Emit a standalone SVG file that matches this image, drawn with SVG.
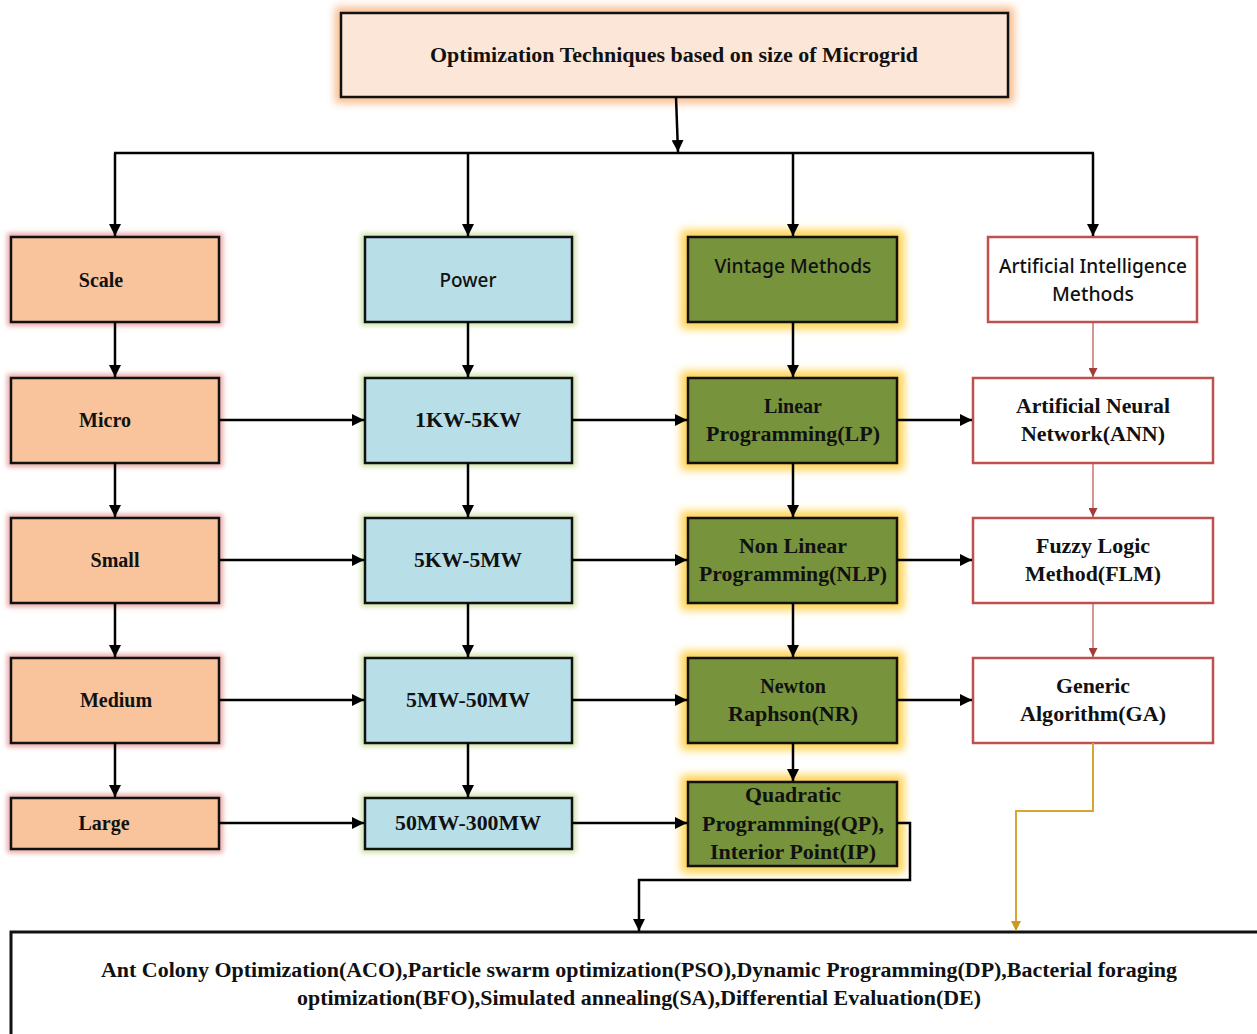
<svg xmlns="http://www.w3.org/2000/svg" width="1257" height="1034" viewBox="0 0 1257 1034">
  <defs>
    <filter id="glow" x="-20%" y="-40%" width="140%" height="180%">
      <feGaussianBlur stdDeviation="4"/>
    </filter>
    <filter id="glowSoft" x="-50%" y="-50%" width="200%" height="200%">
      <feGaussianBlur stdDeviation="2.5"/>
    </filter>
    <marker id="arrow" viewBox="0 0 10 10" refX="10" refY="5" markerWidth="12" markerHeight="12" markerUnits="userSpaceOnUse" orient="auto">
      <path d="M0,0 L10,5 L0,10 Z" fill="#000"/>
    </marker>
    <marker id="arrowRed" viewBox="0 0 10 10" refX="10" refY="5" markerWidth="9" markerHeight="9" markerUnits="userSpaceOnUse" orient="auto">
      <path d="M0,0 L10,5 L0,10 Z" fill="#a33b38"/>
    </marker>
    <marker id="arrowGold" viewBox="0 0 10 10" refX="10" refY="5" markerWidth="10" markerHeight="10" markerUnits="userSpaceOnUse" orient="auto">
      <path d="M0,0 L10,5 L0,10 Z" fill="#c99a1f"/>
    </marker>
  </defs>
  <style>
    .box { stroke: #111; stroke-width: 2.5; }
    .scale { fill: #f9c49b; }
    .power { fill: #b8dee8; }
    .vintage { fill: #77933c; }
    .ai { fill: #fff; stroke: #c0504d; stroke-width: 2.5; }
    .halo-red { fill: none; stroke: #e9a8a6; stroke-width: 8; filter: url(#glowSoft); }
    .halo-green { fill: none; stroke: #cfe3a8; stroke-width: 8; filter: url(#glowSoft); }
    .halo-gold { fill: none; stroke: #ffd24d; stroke-width: 14; filter: url(#glow); }
    .halo-orange { fill: none; stroke: #f8b98a; stroke-width: 12; filter: url(#glow); }
    .serif { font-family: "Liberation Serif", "Times New Roman", serif; font-weight: bold; font-size: 20px; fill: #111; text-anchor: middle; }
    .sans { font-family: "Noto Sans", "Liberation Sans", sans-serif; font-weight: 500; font-size: 19px; fill: #111; text-anchor: middle; }
    .conn { stroke: #000; stroke-width: 2.5; fill: none; }
    .conn-ai { stroke: #b9504c; stroke-width: 1.2; fill: none; }
  </style>

  <rect width="1257" height="1034" fill="#fff"/>

  <!-- halos behind connectors of the coloured columns -->
  <g id="connector-halos">
    <line class="halo-red" x1="115" y1="322" x2="115" y2="378"/>
    <line class="halo-red" x1="115" y1="463" x2="115" y2="518"/>
    <line class="halo-red" x1="115" y1="603" x2="115" y2="658"/>
    <line class="halo-red" x1="115" y1="743" x2="115" y2="798"/>
    <line class="halo-green" x1="468" y1="322" x2="468" y2="378"/>
    <line class="halo-green" x1="468" y1="463" x2="468" y2="518"/>
    <line class="halo-green" x1="468" y1="603" x2="468" y2="658"/>
    <line class="halo-green" x1="468" y1="743" x2="468" y2="798"/>
    <line class="halo-gold" x1="793" y1="322" x2="793" y2="378"/>
    <line class="halo-gold" x1="793" y1="463" x2="793" y2="518"/>
    <line class="halo-gold" x1="793" y1="603" x2="793" y2="658"/>
    <line class="halo-gold" x1="793" y1="743" x2="793" y2="782"/>
    <polyline fill="none" stroke="#fbc995" stroke-width="7" filter="url(#glowSoft)" points="1016,812 1016,930"/>
  </g>

  <!-- title -->
  <g id="title">
    <rect class="halo-orange" x="341" y="13" width="667" height="84"/>
    <rect class="box" x="341" y="13" width="667" height="84" fill="#fce6d8"/>
    <text class="serif" x="674" y="62" textLength="488" lengthAdjust="spacingAndGlyphs">Optimization Techniques based on size of Microgrid</text>
  </g>

  <!-- scale column -->
  <g id="scale">
    <rect class="halo-red" x="11" y="237" width="208" height="85"/>
    <rect class="box scale" x="11" y="237" width="208" height="85"/>
    <text class="serif" x="101" y="287">Scale</text>
  </g>
  <g id="micro">
    <rect class="halo-red" x="11" y="378" width="208" height="85"/>
    <rect class="box scale" x="11" y="378" width="208" height="85"/>
    <text class="serif" x="105" y="427">Micro</text>
  </g>
  <g id="small">
    <rect class="halo-red" x="11" y="518" width="208" height="85"/>
    <rect class="box scale" x="11" y="518" width="208" height="85"/>
    <text class="serif" x="115" y="567">Small</text>
  </g>
  <g id="medium">
    <rect class="halo-red" x="11" y="658" width="208" height="85"/>
    <rect class="box scale" x="11" y="658" width="208" height="85"/>
    <text class="serif" x="116" y="707">Medium</text>
  </g>
  <g id="large">
    <rect class="halo-red" x="11" y="798" width="208" height="51"/>
    <rect class="box scale" x="11" y="798" width="208" height="51"/>
    <text class="serif" x="104" y="830">Large</text>
  </g>

  <!-- power column -->
  <g id="power">
    <rect class="halo-green" x="365" y="237" width="207" height="85"/>
    <rect class="box power" x="365" y="237" width="207" height="85"/>
    <text class="sans" x="468" y="287" textLength="57" lengthAdjust="spacingAndGlyphs">Power</text>
  </g>
  <g id="p-1kw-5kw">
    <rect class="halo-green" x="365" y="378" width="207" height="85"/>
    <rect class="box power" x="365" y="378" width="207" height="85"/>
    <text class="serif" x="468" y="427" textLength="106" lengthAdjust="spacingAndGlyphs">1KW-5KW</text>
  </g>
  <g id="p-5kw-5mw">
    <rect class="halo-green" x="365" y="518" width="207" height="85"/>
    <rect class="box power" x="365" y="518" width="207" height="85"/>
    <text class="serif" x="468" y="567" textLength="108" lengthAdjust="spacingAndGlyphs">5KW-5MW</text>
  </g>
  <g id="p-5mw-50mw">
    <rect class="halo-green" x="365" y="658" width="207" height="85"/>
    <rect class="box power" x="365" y="658" width="207" height="85"/>
    <text class="serif" x="468" y="707" textLength="124" lengthAdjust="spacingAndGlyphs">5MW-50MW</text>
  </g>
  <g id="p-50mw-300mw">
    <rect class="halo-green" x="365" y="798" width="207" height="51"/>
    <rect class="box power" x="365" y="798" width="207" height="51"/>
    <text class="serif" x="468" y="830" textLength="146" lengthAdjust="spacingAndGlyphs">50MW-300MW</text>
  </g>

  <!-- vintage methods column -->
  <g id="vintage">
    <rect class="halo-gold" x="688" y="237" width="209" height="85"/>
    <rect class="box vintage" x="688" y="237" width="209" height="85"/>
    <text class="sans" x="793" y="273" textLength="157" lengthAdjust="spacingAndGlyphs">Vintage Methods</text>
  </g>
  <g id="lp">
    <rect class="halo-gold" x="688" y="378" width="209" height="85"/>
    <rect class="box vintage" x="688" y="378" width="209" height="85"/>
    <text class="serif" x="793" y="413">Linear</text>
    <text class="serif" x="793" y="441" textLength="174" lengthAdjust="spacingAndGlyphs">Programming(LP)</text>
  </g>
  <g id="nlp">
    <rect class="halo-gold" x="688" y="518" width="209" height="85"/>
    <rect class="box vintage" x="688" y="518" width="209" height="85"/>
    <text class="serif" x="793" y="553" textLength="108" lengthAdjust="spacingAndGlyphs">Non Linear</text>
    <text class="serif" x="793" y="581" textLength="188" lengthAdjust="spacingAndGlyphs">Programming(NLP)</text>
  </g>
  <g id="nr">
    <rect class="halo-gold" x="688" y="658" width="209" height="85"/>
    <rect class="box vintage" x="688" y="658" width="209" height="85"/>
    <text class="serif" x="793" y="693">Newton</text>
    <text class="serif" x="793" y="721" textLength="130" lengthAdjust="spacingAndGlyphs">Raphson(NR)</text>
  </g>
  <g id="qp">
    <rect class="halo-gold" x="688" y="782" width="209" height="84"/>
    <rect class="box vintage" x="688" y="782" width="209" height="84"/>
    <text class="serif" x="793" y="802" textLength="96" lengthAdjust="spacingAndGlyphs">Quadratic</text>
    <text class="serif" x="793" y="831" textLength="182" lengthAdjust="spacingAndGlyphs">Programming(QP),</text>
    <text class="serif" x="793" y="859" textLength="166" lengthAdjust="spacingAndGlyphs">Interior Point(IP)</text>
  </g>

  <!-- artificial intelligence column -->
  <g id="ai-methods">
    <rect class="ai" x="988" y="237" width="209" height="85"/>
    <text class="sans" x="1093" y="273" textLength="188" lengthAdjust="spacingAndGlyphs">Artificial Intelligence</text>
    <text class="sans" x="1093" y="301" textLength="82" lengthAdjust="spacingAndGlyphs">Methods</text>
  </g>
  <g id="ann">
    <rect class="ai" x="973" y="378" width="240" height="85"/>
    <text class="serif" x="1093" y="413" textLength="154" lengthAdjust="spacingAndGlyphs">Artificial Neural</text>
    <text class="serif" x="1093" y="441" textLength="144" lengthAdjust="spacingAndGlyphs">Network(ANN)</text>
  </g>
  <g id="flm">
    <rect class="ai" x="973" y="518" width="240" height="85"/>
    <text class="serif" x="1093" y="553" textLength="114" lengthAdjust="spacingAndGlyphs">Fuzzy Logic</text>
    <text class="serif" x="1093" y="581" textLength="136" lengthAdjust="spacingAndGlyphs">Method(FLM)</text>
  </g>
  <g id="ga">
    <rect class="ai" x="973" y="658" width="240" height="85"/>
    <text class="serif" x="1093" y="693" textLength="74" lengthAdjust="spacingAndGlyphs">Generic</text>
    <text class="serif" x="1093" y="721" textLength="146" lengthAdjust="spacingAndGlyphs">Algorithm(GA)</text>
  </g>

  <!-- combined techniques -->
  <g id="other-techniques">
    <rect x="11" y="932" width="1260" height="120" fill="#fff" stroke="#111" stroke-width="3"/>
    <text class="serif" x="639" y="977" textLength="1076" lengthAdjust="spacingAndGlyphs">Ant Colony Optimization(ACO),Particle swarm optimization(PSO),Dynamic Programming(DP),Bacterial foraging</text>
    <text class="serif" x="639" y="1005" textLength="684" lengthAdjust="spacingAndGlyphs">optimization(BFO),Simulated annealing(SA),Differential Evaluation(DE)</text>
  </g>

  <!-- connectors -->
  <g id="connectors">
    <line class="conn" x1="676" y1="97" x2="678" y2="152" marker-end="url(#arrow)"/>
    <line class="conn" x1="114" y1="153" x2="1094" y2="153"/>
    <line class="conn" x1="115" y1="153" x2="115" y2="236" marker-end="url(#arrow)"/>
    <line class="conn" x1="468" y1="153" x2="468" y2="236" marker-end="url(#arrow)"/>
    <line class="conn" x1="793" y1="153" x2="793" y2="236" marker-end="url(#arrow)"/>
    <line class="conn" x1="1093" y1="153" x2="1093" y2="236" marker-end="url(#arrow)"/>

    <line class="conn" x1="115" y1="322" x2="115" y2="377" marker-end="url(#arrow)"/>
    <line class="conn" x1="115" y1="463" x2="115" y2="517" marker-end="url(#arrow)"/>
    <line class="conn" x1="115" y1="603" x2="115" y2="657" marker-end="url(#arrow)"/>
    <line class="conn" x1="115" y1="743" x2="115" y2="797" marker-end="url(#arrow)"/>

    <line class="conn" x1="468" y1="322" x2="468" y2="377" marker-end="url(#arrow)"/>
    <line class="conn" x1="468" y1="463" x2="468" y2="517" marker-end="url(#arrow)"/>
    <line class="conn" x1="468" y1="603" x2="468" y2="657" marker-end="url(#arrow)"/>
    <line class="conn" x1="468" y1="743" x2="468" y2="797" marker-end="url(#arrow)"/>

    <line class="conn" x1="793" y1="322" x2="793" y2="377" marker-end="url(#arrow)"/>
    <line class="conn" x1="793" y1="463" x2="793" y2="517" marker-end="url(#arrow)"/>
    <line class="conn" x1="793" y1="603" x2="793" y2="657" marker-end="url(#arrow)"/>
    <line class="conn" x1="793" y1="743" x2="793" y2="781" marker-end="url(#arrow)"/>

    <line class="conn-ai" x1="1093" y1="322" x2="1093" y2="377" marker-end="url(#arrowRed)"/>
    <line class="conn-ai" x1="1093" y1="463" x2="1093" y2="517" marker-end="url(#arrowRed)"/>
    <line class="conn-ai" x1="1093" y1="603" x2="1093" y2="657" marker-end="url(#arrowRed)"/>

    <line class="conn" x1="219" y1="420" x2="364" y2="420" marker-end="url(#arrow)"/>
    <line class="conn" x1="572" y1="420" x2="687" y2="420" marker-end="url(#arrow)"/>
    <line class="conn" x1="897" y1="420" x2="972" y2="420" marker-end="url(#arrow)"/>
    <line class="conn" x1="219" y1="560" x2="364" y2="560" marker-end="url(#arrow)"/>
    <line class="conn" x1="572" y1="560" x2="687" y2="560" marker-end="url(#arrow)"/>
    <line class="conn" x1="897" y1="560" x2="972" y2="560" marker-end="url(#arrow)"/>
    <line class="conn" x1="219" y1="700" x2="364" y2="700" marker-end="url(#arrow)"/>
    <line class="conn" x1="572" y1="700" x2="687" y2="700" marker-end="url(#arrow)"/>
    <line class="conn" x1="897" y1="700" x2="972" y2="700" marker-end="url(#arrow)"/>
    <line class="conn" x1="219" y1="823" x2="364" y2="823" marker-end="url(#arrow)"/>
    <line class="conn" x1="572" y1="823" x2="687" y2="823" marker-end="url(#arrow)"/>

    <polyline class="conn" points="897,823 910,823 910,880 639,880 639,931" marker-end="url(#arrow)"/>
    <polyline fill="none" stroke="#d9a531" stroke-width="2" points="1093,743 1093,811 1016,811 1016,931" marker-end="url(#arrowGold)"/>
  </g>
</svg>
